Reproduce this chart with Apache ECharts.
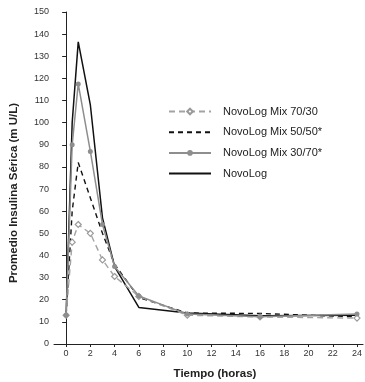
<!DOCTYPE html>
<html>
<head>
<meta charset="utf-8">
<script src="https://cdn.jsdelivr.net/npm/echarts@6/dist/echarts.min.js"></script>
<style>
  html, body { margin: 0; padding: 0; background: #fff; }
  #chart { width: 365px; height: 382px; }
</style>
</head>
<body>
<div id="chart"></div>
<script>
// horas
const hours = [0, 0.5, 1, 2, 3, 4, 6, 10, 16, 24];
const xTicks = [0, 2, 4, 6, 8, 10, 12, 14, 16, 18, 20, 22, 24];

// promedio insulina sérica (m U/L)
const mix7030 = [13, 46, 54, 50, 38, 30.5, 21.5, 13, 12.2, 11.7];
const mix5050 = [13, 60, 82, 66, 50, 36, 21, 14, 13.8, 12.3];
const mix3070 = [13, 90, 117.5, 87, 54, 35, 21.7, 13.5, 12.3, 13.5];
const novolog = [13, 100, 136.5, 108, 57, 35, 16.5, 14, 12.8, 13];

const pairs = (ys) => hours.map((h, i) => [h, ys[i]]);

const chart = echarts.init(document.getElementById("chart"), null, { renderer: "canvas" });

const font = "Liberation Sans, Arial, sans-serif";
const axisColor = "#222";
const noDot = { color: "rgba(0,0,0,0)", borderWidth: 0, opacity: 0 };

chart.setOption({
  animation: false,
  backgroundColor: "#fff",
  grid: { left: 54, right: 0, top: 12, bottom: 38 },
  legend: {
    orient: "vertical",
    left: 168,
    top: 106,
    padding: 0,
    itemWidth: 42,
    itemHeight: 7,
    itemGap: 9.7,
    textStyle: { color: "#222", fontSize: 11, fontFamily: font, padding: [0, 0, 0, 7] },
    data: [
      { name: "NovoLog Mix 70/30" },
      { name: "NovoLog Mix 50/50*", itemStyle: noDot },
      { name: "NovoLog Mix 30/70*" },
      { name: "NovoLog", itemStyle: noDot },
    ],
  },
  xAxis: {
    type: "value",
    min: -1,
    max: 24.5,
    axisLine: { lineStyle: { color: axisColor, width: 1 } },
    axisTick: { show: true, length: 3, customValues: xTicks, lineStyle: { color: axisColor } },
    axisLabel: { customValues: xTicks, color: "#333", fontSize: 9, fontFamily: font, margin: 5 },
    splitLine: { show: false },
  },
  yAxis: {
    type: "value",
    min: 0,
    max: 150,
    interval: 10,
    axisLine: { show: true, lineStyle: { color: axisColor, width: 1 } },
    axisTick: { show: true, length: 4, lineStyle: { color: axisColor } },
    axisLabel: { color: "#333", fontSize: 9, fontFamily: font, margin: 5 },
    splitLine: { show: false },
  },
  graphic: [
    {
      type: "text",
      x: 14,
      y: 193,
      rotation: Math.PI / 2,
      style: {
        text: "Promedio Insulina Sérica (m U/L)",
        font: "bold 11.5px " + font,
        fill: "#222",
        align: "center",
        verticalAlign: "middle",
      },
    },
    {
      type: "text",
      x: 215,
      y: 374,
      style: {
        text: "Tiempo (horas)",
        font: "bold 11.5px " + font,
        fill: "#222",
        align: "center",
        verticalAlign: "middle",
      },
    },
  ],
  series: [
    {
      name: "NovoLog Mix 70/30",
      type: "line",
      data: pairs(mix7030),
      z: 3,
      symbol: "diamond",
      symbolSize: 6,
      itemStyle: { color: "#fff", borderColor: "#9a9a9a", borderWidth: 1.2 },
      lineStyle: { color: "#a3a3a3", width: 1.4, type: [6, 4] },
    },
    {
      name: "NovoLog Mix 50/50*",
      type: "line",
      data: pairs(mix5050),
      z: 2,
      symbol: "none",
      itemStyle: { color: "#111" },
      lineStyle: { color: "#111", width: 1.4, type: [5, 4] },
    },
    {
      name: "NovoLog Mix 30/70*",
      type: "line",
      data: pairs(mix3070),
      z: 4,
      symbol: "circle",
      symbolSize: 5,
      itemStyle: { color: "#8e8e8e" },
      lineStyle: { color: "#8e8e8e", width: 1.5 },
    },
    {
      name: "NovoLog",
      type: "line",
      data: pairs(novolog),
      z: 1,
      symbol: "none",
      itemStyle: { color: "#111" },
      lineStyle: { color: "#111", width: 1.5 },
    },
  ],
});
</script>
</body>
</html>
